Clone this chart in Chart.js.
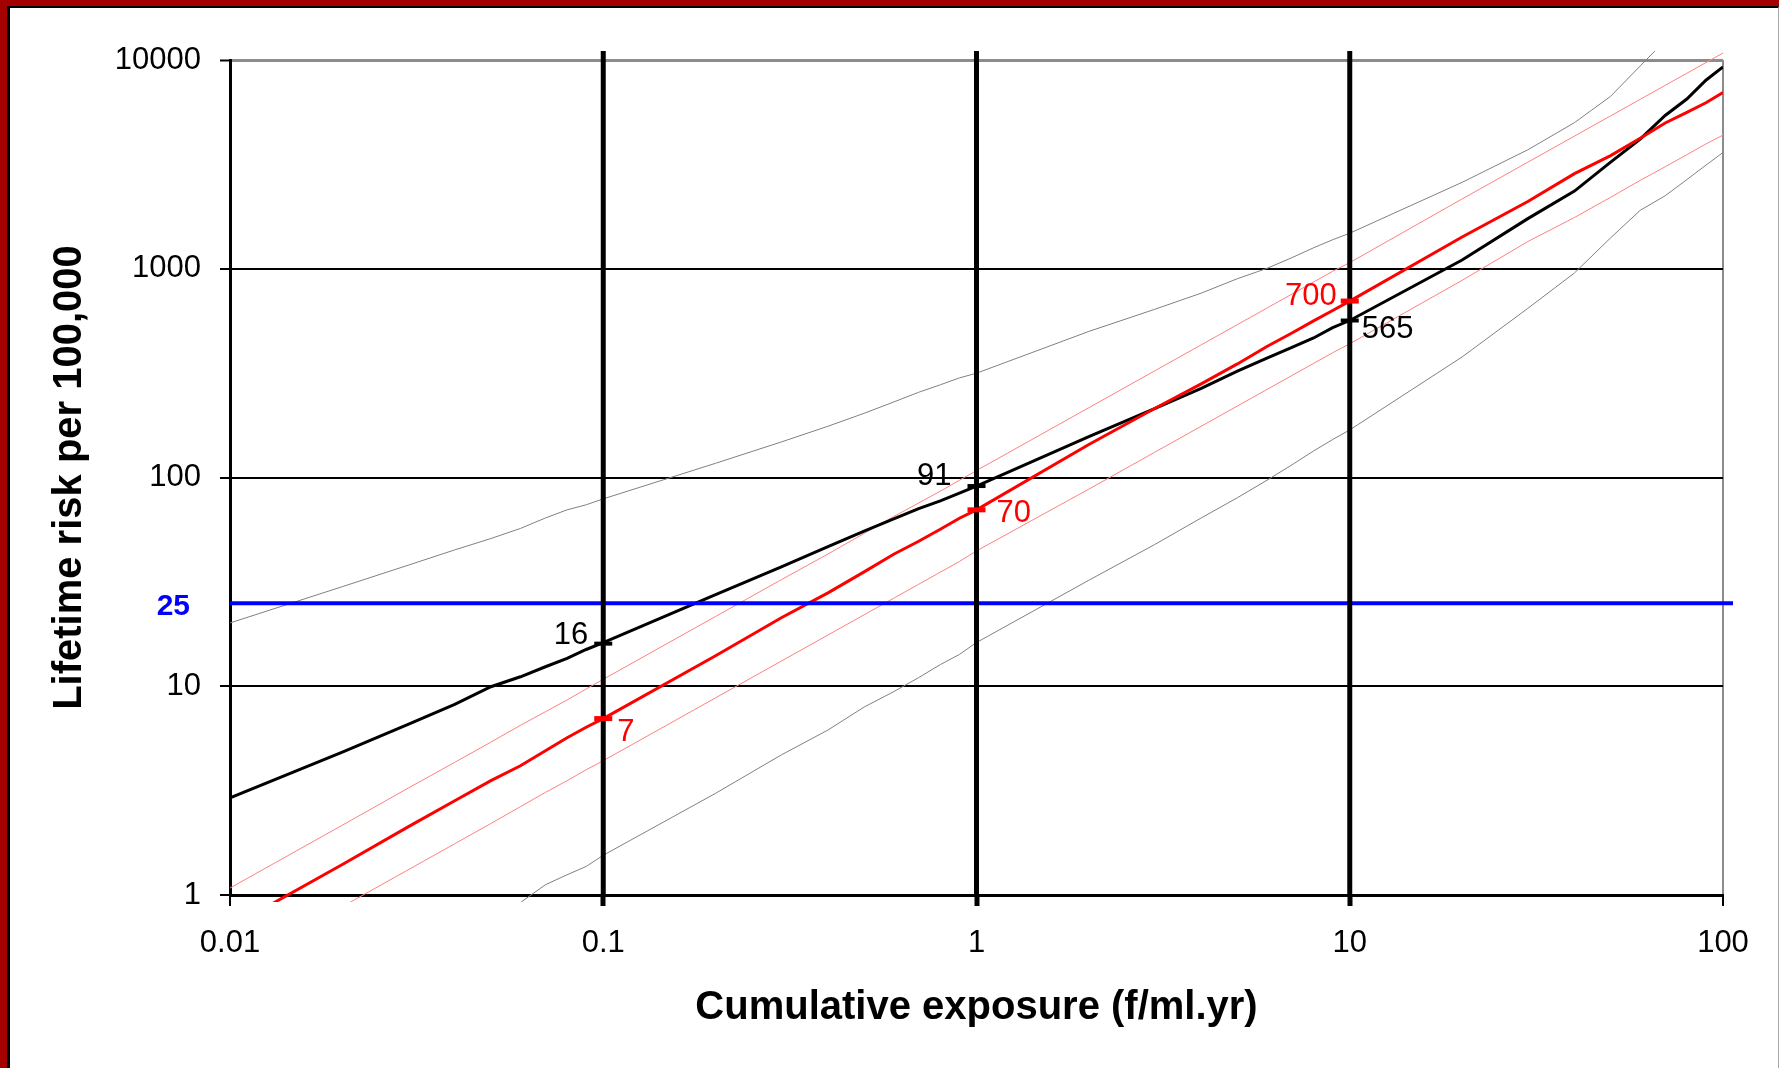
<!DOCTYPE html>
<html>
<head>
<meta charset="utf-8">
<title>Lifetime risk vs cumulative exposure</title>
<script src="https://cdn.jsdelivr.net/npm/chart.js@4.4.1/dist/chart.umd.min.js"></script>
<style>
  html, body { margin: 0; padding: 0; background: #fff; }
  #wrap { position: relative; width: 1779px; height: 1068px; overflow: hidden; background: #fff; }
  #chart { position: absolute; left: 0; top: 0; }
  /* frame round the picture: red band, thin black line inside */
  .frame { position: absolute; left: 0; top: 0; width: 1779px; height: 1068px; box-sizing: border-box;
           border-top: 6px solid #a50000; border-left: 7px solid #a50000; pointer-events: none; }
  .frame2 { position: absolute; left: 7px; top: 6px; right: 0; bottom: 0; box-sizing: border-box;
            border-top: 2px solid #000; border-left: 3px solid #000; border-right: 1px solid #a8a8a8; pointer-events: none; }
</style>
</head>
<body>
<div id="wrap">
  <canvas id="chart" width="1779" height="1068"></canvas>
  <div class="frame"></div>
  <div class="frame2"></div>
</div>
<script>
// exposure points (f/ml.yr)
const xs = [0.01, 0.02, 0.03, 0.04, 0.05, 0.06, 0.07, 0.08, 0.09,
            0.1, 0.2, 0.3, 0.4, 0.5, 0.6, 0.7, 0.8, 0.9,
            1, 2, 3, 4, 5, 6, 7, 8, 9,
            10, 20, 30, 40, 50, 60, 70, 80, 90, 100];

// black model, central estimate and its bounds (grey)
const blackMid = [2.92, 4.83, 6.57, 8.19, 9.95, 11.1, 12.4, 13.6, 15.0,
                  16.2, 27.5, 37.3, 46.7, 55.3, 63.3, 71.0, 77.3, 84.1,
                  91, 157, 214, 267, 323, 373, 420, 466, 522,
                  565, 1101, 1738, 2355, 3243, 4178, 5424, 6502, 8000, 9267];
const grayUpper = [20.1, 30, 38, 45, 51, 57, 64, 70, 74,
                   79, 117, 148, 176, 203, 230, 256, 278, 300,
                   316, 501, 639, 764, 896, 1004, 1130, 1260, 1377,
                   1480, 2594, 3715, 5011, 6701, 9360, 12400, null, null, null];
const grayLower = [null, null, null, null, 0.78, 0.92, 1.12, 1.25, 1.37,
                   1.55, 3.07, 4.69, 6.17, 7.95, 9.42, 11.0, 12.7, 14.2,
                   16.2, 32.2, 47.7, 64, 80, 97, 115, 134, 152,
                   169, 378, 646, 955, 1406, 1905, 2237, 2673, 3135, 3606];

// red model, central estimate and its bounds (pink)
const redMid = [0.70, 1.40, 2.12, 2.83, 3.53, 4.16, 4.91, 5.67, 6.36,
                7.0, 14.0, 21.3, 28.0, 35.3, 42.9, 49.5, 56.5, 63.8,
                70, 144, 214, 281, 350, 424, 492, 563, 631,
                700, 1419, 2100, 2856, 3484, 4217, 4991, 5615, 6237, 6980];
const redUpper = [1.08, 2.16, 3.25, 4.32, 5.4, 6.5, 7.55, 8.6, 9.7,
                  10.8, 21.6, 32.4, 43, 54, 65, 75.5, 86, 97,
                  108, 216, 324, 432, 540, 648, 756, 864, 972,
                  1070, 2160, 3240, 4320, 5400, 6480, 7560, 8640, 9720, 10800];
const redLower = [0.44, 0.88, 1.32, 1.76, 2.2, 2.65, 3.1, 3.53, 3.98,
                  4.4, 8.8, 13.2, 17.6, 22, 26.4, 30.8, 35.2, 39.6,
                  44.5, 88, 132, 176, 220, 264, 308, 352, 396,
                  437, 880, 1350, 1760, 2200, 2650, 3080, 3520, 3960, 4370];

// reference exposures, marked values and the 25 threshold
const refX = [0.1, 1, 10];
const refSpan = [1, 20000];
const markX = [0.1, 1, 10];
const blackMarks = [16, 91, 565];
const redMarks = [7, 70, 700];
const threshold = 25;
const thresholdSpan = [0.01, 200];

const xTicks = [0.01, 0.1, 1, 10, 100];
const yTicks = [1, 10, 100, 1000, 10000];

Chart.defaults.font.family = "'Liberation Sans', Arial, sans-serif";

function pts(vals) {
  const out = [];
  vals.forEach((v, i) => { if (v != null) out.push({x: xs[i], y: v}); });
  return out;
}

const lineClip = {left: 0, top: 9, right: 0, bottom: 7};

const datasets = [];

// markers on the central curves
datasets.push({
  data: markX.map((x, i) => ({x, y: blackMarks[i]})),
  showLine: false, pointStyle: 'line', pointRadius: 9, pointBorderWidth: 4,
  pointBorderColor: '#000', borderColor: '#000', order: 0
});
datasets.push({
  data: markX.map((x, i) => ({x, y: redMarks[i]})),
  showLine: false, pointStyle: 'line', pointRadius: 9, pointBorderWidth: 5,
  pointBorderColor: '#ff0000', borderColor: '#ff0000', order: 0
});

// thick vertical lines at 0.1, 1, 10
refX.forEach(x => {
  datasets.push({
    data: [{x, y: refSpan[0]}, {x, y: refSpan[1]}],
    showLine: true, pointRadius: 0, borderColor: '#000', borderWidth: 5,
    clip: {left: 5, top: 9, right: 5, bottom: 0}, order: 1
  });
});

// blue threshold
datasets.push({
  data: thresholdSpan.map(x => ({x, y: threshold})),
  showLine: true, pointRadius: 0, borderColor: '#0000ff', borderWidth: 4,
  clip: {left: 0, top: 0, right: 10, bottom: 0}, order: 2
});

function curve(vals, color, width, order) {
  return {
    data: pts(vals), showLine: true, pointRadius: 0, borderColor: color,
    borderWidth: width, tension: 0, clip: lineClip, order
  };
}
datasets.push(curve(redMid, '#ff0000', 3, 3));
datasets.push(curve(blackMid, '#000000', 3, 4));
datasets.push(curve(redUpper, '#ff8080', 1, 5));
datasets.push(curve(redLower, '#ff8080', 1, 5));
datasets.push(curve(grayUpper, '#808080', 1, 6));
datasets.push(curve(grayLower, '#808080', 1, 6));

// where each value label sits relative to its marker
const blackLabelPos = [{dx: -15, dy: -8, align: 'right'}, {dx: -25, dy: -10, align: 'right'}, {dx: 12, dy: 9, align: 'left'}];
const redLabelPos = [{dx: 14, dy: 14, align: 'left'}, {dx: 20, dy: 4, align: 'left'}, {dx: -13, dy: -5, align: 'right'}];

const valueLabels = {
  id: 'valueLabels',
  afterDatasetsDraw(chart) {
    const {ctx, scales: {x, y}, chartArea} = chart;
    ctx.save();
    ctx.textBaseline = 'middle';
    ctx.font = "31px 'Liberation Sans', Arial, sans-serif";
    const put = (vals, pos, color) => {
      vals.forEach((v, i) => {
        ctx.fillStyle = color;
        ctx.textAlign = pos[i].align;
        ctx.fillText(String(v), x.getPixelForValue(markX[i]) + pos[i].dx, y.getPixelForValue(v) + pos[i].dy);
      });
    };
    put(blackMarks, blackLabelPos, '#000');
    put(redMarks, redLabelPos, '#ff0000');
    // threshold value beside the axis
    ctx.font = "bold 30px 'Liberation Sans', Arial, sans-serif";
    ctx.fillStyle = '#0000ff';
    ctx.textAlign = 'right';
    ctx.fillText(String(threshold), chartArea.left - 40, y.getPixelForValue(threshold) + 4);
    ctx.restore();
  }
};

new Chart(document.getElementById('chart'), {
  type: 'scatter',
  data: {datasets},
  options: {
    responsive: false,
    devicePixelRatio: 1,
    animation: false,
    events: [],
    layout: {padding: {left: 10, right: 56, top: 60, bottom: 0}},
    plugins: {legend: {display: false}, tooltip: {enabled: false}},
    scales: {
      x: {
        type: 'logarithmic', min: 0.01, max: 100,
        afterBuildTicks: s => { s.ticks = xTicks.map(v => ({value: v})); },
        afterFit: s => { s.height = 173; },
        ticks: {callback: v => String(v), font: {size: 31}, color: '#000', padding: 19, maxRotation: 0, autoSkip: false},
        grid: {
          color: c => (c.tick && c.tick.value === 100) ? '#8c8c8c' : 'rgba(0,0,0,0)',
          lineWidth: 2,
          tickColor: '#000',
          tickWidth: c => (c.tick && refX.includes(c.tick.value)) ? 5 : 2,
          tickLength: 11
        },
        border: {color: '#000', width: 3},
        title: {display: true, text: 'Cumulative exposure (f/ml.yr)', color: '#000',
                font: {size: 40, weight: 'bold'}, padding: {top: 0, bottom: 36}}
      },
      y: {
        type: 'logarithmic', min: 1, max: 10000,
        afterBuildTicks: s => { s.ticks = yTicks.map(v => ({value: v})); },
        afterFit: s => { s.width = 220; },
        ticks: {callback: v => String(v), font: {size: 31}, color: '#000', padding: 19},
        grid: {
          color: c => (c.tick && c.tick.value === 10000) ? '#8c8c8c' : '#000',
          lineWidth: c => (c.tick && c.tick.value === 10000) ? 3 : 2,
          tickColor: '#000', tickWidth: 2, tickLength: 10
        },
        border: {color: '#000', width: 3},
        title: {display: true, text: 'Lifetime risk per 100,000', color: '#000',
                font: {size: 40, weight: 'bold'}, padding: {top: 36, bottom: 0}}
      }
    }
  },
  plugins: [valueLabels]
});
</script>
</body>
</html>
